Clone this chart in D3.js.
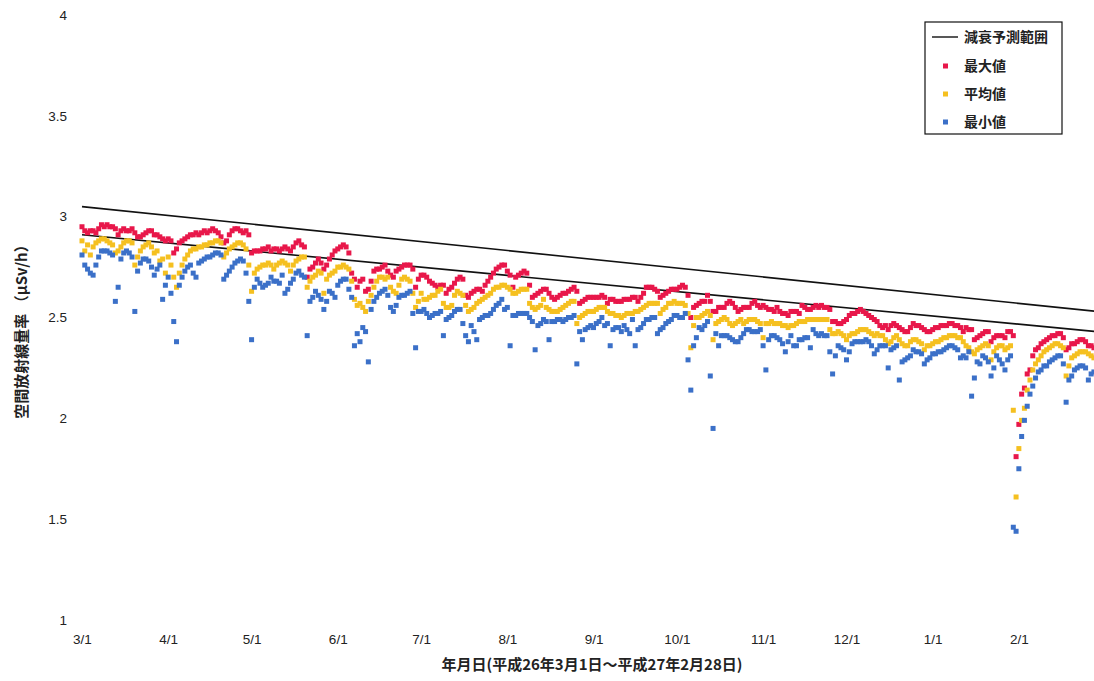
<!DOCTYPE html>
<html><head><meta charset="utf-8">
<script src="https://cdn.jsdelivr.net/npm/d3@7/dist/d3.min.js"></script>
<style>
body{margin:0;background:#fff;}
text{font-family:"Noto Sans CJK JP","Noto Sans",sans-serif;fill:#222;}
</style>
</head><body>
<svg id="chart" width="1094" height="681"></svg>
<script>
// ---- data (day index 0 = 2014-03-01) ----
const xTickDays   = [0,31,61,92,122,153,184,214,245,275,306,337];
const xTickLabels = ["3/1","4/1","5/1","6/1","7/1","8/1","9/1","10/1","11/1","12/1","1/1","2/1"];
const yTicks      = [1,1.5,2,2.5,3,3.5,4];
const yTickLabels = ["1","1.5","2","2.5","3","3.5","4"];
const lineDays    = [0,365];
const upperLine   = [3.05,2.53];
const lowerLine   = [2.91,2.43];
const seriesNames = ["最大値","平均値","最小値"];
const lineName    = "減衰予測範囲";

const maxVals = [
2.95,2.93,2.92,2.93,2.93,2.92,2.94,2.96,2.95,2.96,2.95,2.95,2.94,2.91,2.93,2.94,2.93,2.93,2.94,2.92,2.90,2.90,2.91,2.92,2.93,2.93,2.91,2.91,2.90,2.89,2.88,
2.89,2.88,2.82,2.84,2.87,2.88,2.89,2.90,2.91,2.91,2.92,2.91,2.92,2.93,2.92,2.93,2.94,2.93,2.92,2.90,2.87,2.88,2.91,2.93,2.94,2.94,2.93,2.92,2.93,2.91,
2.82,2.83,2.83,2.83,2.84,2.84,2.85,2.83,2.84,2.84,2.83,2.84,2.85,2.84,2.83,2.85,2.87,2.88,2.86,2.85,2.70,2.74,2.75,2.77,2.79,2.77,2.74,2.76,2.79,2.81,2.83,
2.84,2.85,2.86,2.85,2.82,2.72,2.69,2.65,2.68,2.69,2.63,2.64,2.68,2.73,2.74,2.74,2.75,2.76,2.73,2.71,2.70,2.73,2.74,2.75,2.76,2.76,2.76,2.74,2.65,2.69,
2.71,2.71,2.70,2.68,2.67,2.66,2.65,2.66,2.66,2.62,2.64,2.65,2.67,2.69,2.70,2.69,2.61,2.60,2.62,2.63,2.64,2.64,2.63,2.66,2.68,2.70,2.72,2.74,2.75,2.76,2.76,
2.73,2.71,2.65,2.70,2.71,2.72,2.73,2.72,2.66,2.60,2.61,2.62,2.63,2.64,2.64,2.62,2.60,2.59,2.60,2.61,2.62,2.62,2.63,2.64,2.65,2.63,2.57,2.58,2.59,2.60,2.60,
2.60,2.60,2.60,2.61,2.60,2.57,2.59,2.59,2.58,2.58,2.58,2.59,2.59,2.59,2.60,2.60,2.58,2.60,2.62,2.65,2.65,2.65,2.64,2.63,2.60,2.61,2.62,2.63,2.64,2.64,
2.64,2.65,2.66,2.65,2.61,2.50,2.55,2.56,2.57,2.58,2.58,2.61,2.58,2.53,2.53,2.55,2.55,2.55,2.57,2.58,2.57,2.55,2.53,2.54,2.55,2.55,2.55,2.57,2.58,2.56,2.55,
2.56,2.55,2.54,2.54,2.53,2.55,2.53,2.52,2.52,2.51,2.53,2.53,2.53,2.52,2.56,2.55,2.54,2.54,2.55,2.56,2.55,2.56,2.55,2.55,2.54,2.48,2.48,2.47,2.47,2.48,
2.49,2.51,2.52,2.52,2.53,2.54,2.53,2.52,2.51,2.50,2.49,2.48,2.46,2.45,2.46,2.44,2.46,2.47,2.46,2.45,2.44,2.43,2.43,2.45,2.47,2.46,2.46,2.45,2.44,2.43,2.43,
2.44,2.45,2.45,2.46,2.46,2.46,2.47,2.47,2.46,2.46,2.45,2.43,2.45,2.44,2.44,2.39,2.40,2.41,2.42,2.43,2.43,2.38,2.40,2.41,2.41,2.41,2.40,2.43,2.43,2.41,1.81,
1.97,2.12,2.15,2.22,2.24,2.31,2.34,2.35,2.37,2.38,2.39,2.40,2.41,2.41,2.42,2.42,2.40,2.34,2.35,2.37,2.37,2.38,2.39,2.39,2.38,2.36,2.36,2.35
];
const avgVals = [
2.88,2.83,2.86,2.81,2.85,2.87,2.88,2.89,2.89,2.88,2.87,2.86,2.82,2.83,2.85,2.87,2.88,2.88,2.87,2.76,2.80,2.83,2.85,2.86,2.87,2.85,2.82,2.83,2.78,2.79,2.72,
2.80,2.76,2.70,2.65,2.72,2.76,2.79,2.81,2.83,2.84,2.84,2.85,2.85,2.86,2.86,2.87,2.87,2.88,2.88,2.87,2.80,2.82,2.84,2.85,2.86,2.87,2.87,2.86,2.84,2.76,
2.63,2.72,2.74,2.75,2.76,2.76,2.77,2.76,2.74,2.76,2.77,2.78,2.77,2.76,2.73,2.76,2.78,2.79,2.80,2.80,2.65,2.68,2.70,2.71,2.73,2.72,2.62,2.69,2.71,2.72,2.73,
2.75,2.75,2.76,2.75,2.74,2.68,2.59,2.56,2.57,2.55,2.53,2.58,2.61,2.65,2.68,2.70,2.70,2.69,2.70,2.65,2.63,2.62,2.66,2.69,2.70,2.69,2.68,2.62,2.55,2.58,
2.62,2.59,2.59,2.60,2.61,2.61,2.63,2.64,2.57,2.55,2.55,2.56,2.61,2.63,2.62,2.61,2.56,2.53,2.54,2.55,2.57,2.58,2.59,2.60,2.61,2.62,2.64,2.65,2.65,2.66,2.66,
2.65,2.64,2.62,2.62,2.63,2.64,2.64,2.64,2.57,2.55,2.54,2.55,2.56,2.59,2.55,2.54,2.53,2.53,2.53,2.54,2.55,2.56,2.57,2.58,2.58,2.47,2.50,2.51,2.52,2.53,2.53,
2.53,2.54,2.55,2.55,2.55,2.53,2.52,2.52,2.51,2.51,2.50,2.51,2.52,2.52,2.52,2.53,2.53,2.54,2.55,2.56,2.57,2.57,2.57,2.57,2.52,2.54,2.55,2.57,2.57,2.58,
2.57,2.57,2.57,2.56,2.52,2.35,2.46,2.50,2.50,2.51,2.52,2.53,2.51,2.39,2.47,2.48,2.49,2.50,2.49,2.47,2.46,2.47,2.48,2.49,2.47,2.48,2.49,2.49,2.49,2.48,2.47,
2.40,2.47,2.47,2.48,2.47,2.47,2.47,2.46,2.46,2.45,2.46,2.46,2.47,2.48,2.48,2.48,2.49,2.49,2.49,2.49,2.49,2.49,2.49,2.49,2.44,2.42,2.42,2.43,2.42,2.41,
2.39,2.41,2.42,2.42,2.43,2.44,2.44,2.44,2.43,2.42,2.41,2.42,2.41,2.41,2.39,2.37,2.38,2.40,2.41,2.39,2.37,2.36,2.36,2.38,2.39,2.39,2.38,2.37,2.34,2.36,2.36,
2.37,2.38,2.38,2.39,2.40,2.40,2.41,2.41,2.41,2.40,2.40,2.38,2.36,2.35,2.33,2.32,2.34,2.35,2.36,2.37,2.36,2.29,2.33,2.35,2.36,2.36,2.34,2.35,2.36,2.04,1.61,
1.85,1.99,2.05,2.14,2.19,2.24,2.27,2.29,2.31,2.33,2.34,2.35,2.36,2.37,2.37,2.36,2.35,2.21,2.26,2.30,2.31,2.32,2.33,2.33,2.33,2.32,2.31,2.30
];
const minVals = [
2.81,2.76,2.74,2.72,2.71,2.76,2.80,2.83,2.83,2.83,2.82,2.81,2.58,2.65,2.79,2.82,2.83,2.82,2.80,2.53,2.73,2.77,2.79,2.79,2.78,2.75,2.71,2.74,2.76,2.59,2.66,
2.70,2.62,2.48,2.38,2.66,2.70,2.73,2.75,2.76,2.72,2.70,2.77,2.78,2.79,2.80,2.80,2.81,2.82,2.82,2.81,2.69,2.71,2.73,2.75,2.77,2.78,2.79,2.78,2.72,2.58,
2.39,2.65,2.69,2.67,2.65,2.66,2.67,2.70,2.68,2.68,2.67,2.71,2.62,2.64,2.67,2.69,2.72,2.73,2.71,2.70,2.41,2.58,2.60,2.63,2.61,2.59,2.54,2.58,2.63,2.62,2.60,
2.66,2.68,2.69,2.69,2.64,2.60,2.36,2.42,2.38,2.45,2.43,2.28,2.54,2.58,2.60,2.62,2.63,2.64,2.61,2.55,2.53,2.56,2.60,2.61,2.61,2.62,2.63,2.52,2.35,2.53,
2.53,2.54,2.52,2.50,2.51,2.52,2.52,2.53,2.41,2.49,2.50,2.51,2.53,2.54,2.54,2.47,2.41,2.38,2.46,2.43,2.39,2.49,2.50,2.51,2.51,2.52,2.54,2.56,2.57,2.59,2.54,
2.55,2.36,2.51,2.51,2.52,2.52,2.52,2.52,2.50,2.48,2.34,2.46,2.47,2.49,2.48,2.39,2.48,2.48,2.49,2.49,2.48,2.49,2.50,2.50,2.51,2.27,2.43,2.39,2.44,2.45,2.46,
2.45,2.47,2.48,2.50,2.46,2.47,2.36,2.44,2.45,2.45,2.43,2.46,2.44,2.42,2.49,2.36,2.44,2.45,2.47,2.49,2.49,2.50,2.50,2.42,2.44,2.45,2.47,2.48,2.49,2.51,
2.51,2.50,2.50,2.52,2.29,2.14,2.36,2.40,2.45,2.44,2.46,2.48,2.21,1.95,2.42,2.36,2.41,2.41,2.41,2.40,2.39,2.38,2.38,2.40,2.42,2.44,2.44,2.43,2.43,2.43,2.44,
2.36,2.24,2.39,2.41,2.41,2.40,2.39,2.37,2.33,2.38,2.41,2.36,2.36,2.39,2.39,2.40,2.40,2.35,2.44,2.42,2.41,2.42,2.41,2.41,2.33,2.22,2.31,2.36,2.35,2.34,
2.29,2.33,2.37,2.38,2.38,2.38,2.38,2.39,2.38,2.36,2.32,2.34,2.36,2.36,2.36,2.25,2.34,2.35,2.36,2.19,2.28,2.29,2.30,2.31,2.34,2.33,2.33,2.32,2.27,2.29,2.30,
2.32,2.32,2.33,2.33,2.34,2.35,2.36,2.36,2.35,2.34,2.30,2.31,2.30,2.33,2.11,2.20,2.28,2.27,2.31,2.30,2.28,2.21,2.25,2.31,2.29,2.27,2.24,2.29,2.31,1.46,1.44,
1.75,1.91,1.99,2.06,2.12,2.16,2.20,2.23,2.24,2.26,2.26,2.28,2.29,2.30,2.31,2.31,2.27,2.08,2.19,2.21,2.24,2.25,2.26,2.26,2.25,2.19,2.22,2.23
];

// ---- drawing ----
const svg = d3.select("#chart");
const x = d3.scaleLinear().domain([0,365]).range([82, 1096.7]);
const y = d3.scaleLinear().domain([1,4]).range([620, 15]);
const colors = ["#e8174a","#f5c020","#3b70c8"];
const seriesVals = [maxVals, avgVals, minVals];

// y axis
const yAxis = d3.axisLeft(y).tickValues(yTicks)
  .tickFormat((d,i)=>yTickLabels[i]).tickSize(0).tickPadding(15);
const gy = svg.append("g").attr("transform","translate(82,0)").call(yAxis);
gy.select(".domain").remove();
gy.selectAll("text").style("font-size","13.5px").style("font-family","'Liberation Sans',Arial,sans-serif").attr("fill","#222");

// x axis
const xAxis = d3.axisBottom(x).tickValues(xTickDays)
  .tickFormat((d,i)=>xTickLabels[i]).tickSize(0).tickPadding(14);
const gx = svg.append("g").attr("transform","translate(0,620)").call(xAxis);
gx.select(".domain").remove();
gx.selectAll("text").style("font-size","13.5px").style("font-family","'Liberation Sans',Arial,sans-serif").attr("fill","#222");

// decay prediction lines
const line = d3.line().x((d,i)=>x(lineDays[i])).y(d=>y(d));
[upperLine, lowerLine].forEach(arr=>{
  svg.append("path").datum(arr).attr("d",line)
    .attr("fill","none").attr("stroke","#111").attr("stroke-width",1.6);
});

// scatter series
const sz = 5;
seriesVals.forEach((vals,si)=>{
  svg.append("g").selectAll("rect").data(vals).join("rect")
    .attr("x",(d,i)=>x(i)-sz/2).attr("y",d=>y(d)-sz/2)
    .attr("width",sz).attr("height",sz).attr("fill",colors[si]);
});

// axis titles
svg.append("text").attr("transform","translate(27,328) rotate(-90)")
  .attr("text-anchor","middle").style("font-size","15px").style("font-weight","bold")
  .text("空間放射線量率 （μSv/h）");
svg.append("text").attr("x",592).attr("y",670).attr("text-anchor","middle")
  .style("font-size","15px").style("font-weight","bold")
  .text("年月日(平成26年3月1日～平成27年2月28日)");

// legend
const lg = svg.append("g").attr("transform","translate(925,22)");
lg.append("rect").attr("width",137).attr("height",112).attr("fill","#fff")
  .attr("stroke","#111").attr("stroke-width",1.2);
lg.append("line").attr("x1",7).attr("x2",33).attr("y1",15).attr("y2",15)
  .attr("stroke","#111").attr("stroke-width",1.4);
lg.append("text").attr("x",39).attr("y",20).style("font-size","14px").style("font-weight","bold").text(lineName);
seriesNames.forEach((n,i)=>{
  const yy = 44 + i*28;
  lg.append("rect").attr("x",18).attr("y",yy-sz/2).attr("width",sz).attr("height",sz).attr("fill",colors[i]);
  lg.append("text").attr("x",39).attr("y",yy+5).style("font-size","14px").style("font-weight","bold").text(n);
});
</script>
</body></html>
